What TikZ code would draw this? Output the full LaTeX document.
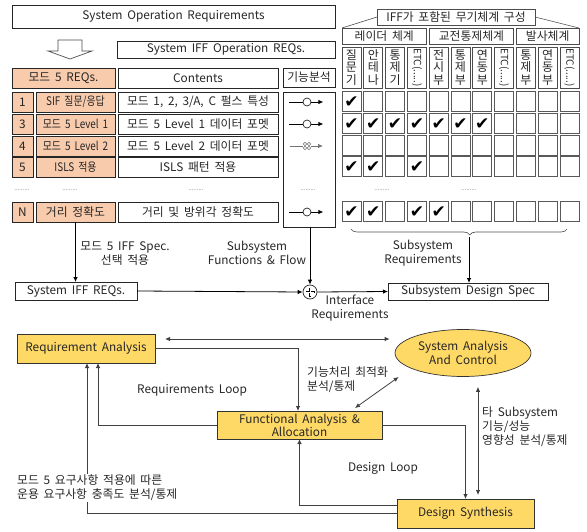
\documentclass[tikz,border=0pt]{standalone}
\usepackage{fontspec}
\setmainfont{Noto Sans CJK KR}[WordSpace=1.8]
\newfontfamily\symfont{DejaVu Sans}
\usetikzlibrary{arrows.meta,shapes.geometric,decorations.pathreplacing,calc}
\definecolor{salmon}{HTML}{F8CBAD}
\definecolor{gold}{HTML}{FFD966}
\definecolor{ink}{HTML}{262626}
\definecolor{wire}{HTML}{404040}

% one table row: name, top edge, number, label, contents
\newcommand\tabrow[5]{%
  \node[ocell, sz={21}{20}] (n#1) at (12,#2) {#3};
  \node[ocell, sz={79}{20}] (l#1) at (36,#2) {#4};
  \node[box, sz={160}{20}] (c#1) at (118,#2) {#5};}
\newcommand\squeeze[1]{\scalebox{0.84}[1]{#1}}

\begin{document}
\begin{tikzpicture}[x=1pt,y=-1pt,
  font=\fontsize{11.8}{14}\selectfont, text=ink,
  sz/.style 2 args={minimum width=#1pt, minimum height=#2pt},
  box/.style={draw=black!85, line width=0.8pt, inner sep=0pt, outer sep=0pt, anchor=north west},
  ocell/.style={box, fill=salmon},
  gcell/.style={box, draw=black!65, line width=1pt},
  hcell/.style={box, draw=black!70, align=center, font=\fontsize{12}{12.3}\selectfont},
  grp/.style={box, draw=black!70},
  gold box/.style={draw=black!80, fill=gold, line width=0.7pt, inner sep=0pt, outer sep=0pt, anchor=north west},
  conn/.style={draw=wire, line width=0.8pt},
  tip/.style={-{Latex[length=5pt,width=4.5pt]}},
  tips/.style={{Latex[length=5pt,width=4.5pt]}-{Latex[length=5pt,width=4.5pt]}},
  dots/.style={font=\fontsize{6}{6}\selectfont, text=black!70},
  lbl/.style={inner sep=0pt, align=center},
  chk/.style={font=\symfont\fontsize{17}{17}\selectfont, text=black}]
\useasboundingbox (0,0) rectangle (587,532);

% ---------- upper part: requirement table ----------
\node[box, sz={323}{23}] (sor) at (12,5) {System Operation Requirements};
\draw[line width=0.7pt, draw=black!70, fill=white]
  (58,40) -- (82,40) -- (82,51) -- (92,51) -- (70,59) -- (48,51) -- (58,51) -- cycle;
\node[box, sz={218}{17}] (sifr) at (117,41) {System IFF Operation REQs.};

\node[ocell, sz={103}{20}] (hm) at (12,68) {모드 5 REQs.};
\node[box, sz={160}{20}] (hc) at (118,68) {Contents};
\node[box, sz={52}{19}] (hf) at (283,68) {기능분석};

\tabrow{a}{92}{1}{\squeeze{SIF 질문/응답}}{모드 1, 2, 3/A, C 펄스 특성}
\tabrow{b}{114}{3}{\squeeze{모드 5 Level 1}}{모드 5 Level 1 데이터 포멧}
\tabrow{c}{136}{4}{\squeeze{모드 5 Level 2}}{모드 5 Level 2 데이터 포멧}
\tabrow{d}{157}{5}{\squeeze{ISLS 적용}}{ISLS 패턴 적용}
\tabrow{e}{202}{N}{거리 정확도}{거리 및 방위각 정확도}

\foreach \x in {22,70,196,308,382,469} \node[dots] at (\x,190) {.........};

% function column
\node[box, sz={52}{135}] (fbox) at (283,92) {};
\foreach \r/\y in {a/102,b/124,e/212} {
  \node[circle, draw=black!85, line width=0.7pt, minimum size=8pt, inner sep=0pt] (fc\r) at (307,\y) {};
  \draw[line width=0.8pt] (fc\r.west) -- ++(-14,0);
  \draw[line width=0.8pt, tip] (fc\r.east) -- ++(12,0);
}
\coordinate (fcc) at (307,146);
\draw[line width=0.8pt, black!55] ($(fcc)+(-17,0)$) -- ($(fcc)+(-4,0)$);
\draw[line width=0.8pt, black!55, tip] ($(fcc)+(4,0)$) -- ($(fcc)+(16,0)$);
\foreach \dx/\dy in {-2/-2,2/-2,-2/2,2/2}
  \draw[line width=0.5pt, black!55] ($(fcc)+(\dx,\dy)$) circle (1.7);

% ---------- weapon system matrix ----------
\node[grp, sz={158}{16}] (iff) at (377,9) {IFF가 포함된 무기체계 구성};
\node[grp, sz={84.4}{16}] (g1) at (342,28) {레이더 체계};
\node[grp, sz={84.4}{16}] (g2) at (429.2,28) {교전통제체계};
\node[grp, sz={62.6}{16}] (g3) at (516.4,28) {발사체계};
\draw[line width=0.6pt, black!70] (iff.west) -- (g1.north west);
\draw[line width=0.6pt, black!70] (iff.east) -- (g3.north east);

\foreach \i/\t in {0/{질\\문\\기},1/{안\\테\\나},2/{통\\제\\기},4/{전\\시\\부},5/{통\\제\\부},6/{연\\동\\부},8/{통\\제\\부},9/{연\\동\\부}}
  \node[hcell, sz={19}{41}] (h\i) at ({342+21.8*\i},47) {\t};
\foreach \i in {3,7,10} {
  \node[hcell, sz={19}{41}] (h\i) at ({342+21.8*\i},47) {};
  \node[rotate=-90, inner sep=0pt, font=\fontsize{10}{10}\selectfont] at (h\i) {ETC(.....)};
}

\foreach \r/\t in {a/92,b/114,c/136,d/157,e/202}
  \foreach \i in {0,...,10}
    \node[gcell, sz={19}{20}] (g\r\i) at ({342+21.8*\i},\t) {};

\foreach \c in {a0,b0,b1,b2,b3,b4,b5,b6,d0,d1,d3,e0,e1,e3,e4}
  \node[chk] at (g\c) {✔};

\draw[line width=0.6pt, black!70, decorate, decoration={brace, mirror, amplitude=6pt, aspect=0.55}]
  (351,229) -- (567,229);
\coordinate (bt) at (469,237);

% ---------- specification flow ----------
\node[box, sz={122}{18}] (sreq) at (15,282) {System IFF REQs.};
\node[circle, draw=black!85, line width=0.7pt, minimum size=14pt, inner sep=0pt] (plus) at (310,292) {};
\draw[line width=2pt] ($(plus.center)+(-4.5,0)$) -- ($(plus.center)+(4.5,0)$)
                        ($(plus.center)+(0,-4.5)$) -- ($(plus.center)+(0,4.5)$);
\draw[white, line width=0.8pt] ($(plus.center)+(-4,0)$) -- ($(plus.center)+(4,0)$)
                        ($(plus.center)+(0,-4)$) -- ($(plus.center)+(0,4)$);
\node[box, sz={160}{17}] (dspec) at (388,283) {Subsystem Design Spec};

\draw[line width=0.8pt, tip] (le.south) -- (le.south |- sreq.north);
\draw[line width=0.8pt, tip] (fbox.south -| plus) -- (plus.north);
\draw[line width=0.8pt, tip] (sreq.east) -- (plus.west);
\draw[line width=0.8pt, tip] (plus.east) -- (dspec.west);
\draw[line width=0.8pt, tip] (bt) -- (bt |- dspec.north);

\node[lbl] at (125,254) {모드 5 IFF Spec.\\선택 적용};
\node[lbl] at (257,253) {Subsystem\\Functions \& Flow};
\node[lbl] at (423,253) {Subsystem\\Requirements};
\node[lbl] at (350,308) {Interface\\Requirements};

% ---------- lower part: systems engineering loops ----------
\node[gold box, sz={138}{29}] (ra) at (17,334) {Requirement Analysis};
\node[ellipse, draw=black!80, fill=gold, line width=0.7pt, minimum width=136pt, minimum height=47pt,
      inner sep=0pt, align=center] (sac) at (463,353) {System Analysis\\And Control};
\node[gold box, sz={165}{28}, align=center, font=\fontsize{11.8}{13}\selectfont] (faa) at (217,411) {Functional Analysis \&\\Allocation};
\node[gold box, sz={137}{29}] (ds) at (397,499) {Design Synthesis};

\draw[conn, tips] ($(ra.east)+(10,-9.5)$) -- ($(sac.west)+(-5,-14)$);
\draw[conn, tip] (ra.east) -| ($(faa.north west)+(81,0)$);
\draw[conn, tip] (faa.west) -| ($(ra.south west)+(81,0)$);
\draw[conn, tip] (ds.west) -| ($(ra.south west)+(70,0)$);
\draw[conn, tip] (faa.east) -| (ds.north);
\draw[conn, tip] ($(ds.west)+(0,-8.5)$) -| (faa.south);
\draw[conn, tips] ($(faa.north west)+(138,-3)$) -- ($(sac.west)+(4,24)$);
\coordinate (v1) at ($(sac.south)+(15,10)$);
\draw[conn, tips] (v1) -- ($(v1 |- ds.north)+(0,-4)$);

\node[lbl] at (192,390) {Requirements Loop};
\node[lbl] at (383,468) {Design Loop};
\node[lbl, anchor=west, align=left] at (307,380) {기능처리 최적화\\분석/통제};
\node[lbl, anchor=west, align=left] at (482,427) {타 Subsystem\\기능/성능\\영향성 분석/통제};
\node[lbl, anchor=west, align=left, fill=white, inner sep=1pt] at (16,488) {모드 5 요구사항 적용에 따른\\운용 요구사항 충족도 분석/통제};
\end{tikzpicture}
\end{document}
